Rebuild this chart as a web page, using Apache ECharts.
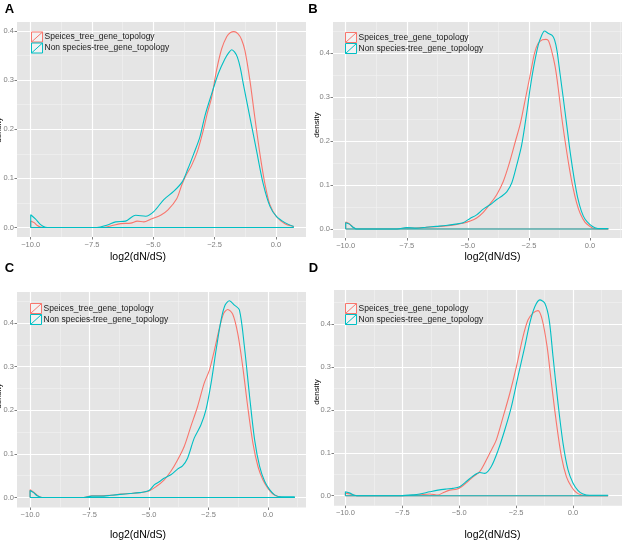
<!DOCTYPE html>
<html>
<head>
<meta charset="utf-8">
<script src="https://cdn.jsdelivr.net/npm/echarts@6/dist/echarts.min.js"></script>
<style>
  html, body { margin: 0; padding: 0; background: #fff; }
  #chart { width: 623px; height: 545px; }
</style>
</head>
<body>
<div id="chart"></div>
<script>
// 四个面板的密度曲线 (log2(dN/dS) 分布)

const seriesNames = ['Speices_tree_gene_topology', 'Non species-tree_gene_topology'];
const panelLetters = ['A', 'B', 'C', 'D'];
const xTitle = 'log2(dN/dS)';
const yTitle = 'density';

const xTickValues = [-10, -7.5, -5, -2.5, 0];
const xMinorValues = [-8.75, -6.25, -3.75, -1.25, 1.25];
const yTickValues = [0, 0.1, 0.2, 0.3, 0.4];
const yMinorValues = [0.05, 0.15, 0.25, 0.35, 0.45];

// [log2(dN/dS), density]
const speciesA = [
    [-10, 0], [-10, 0.0135], [-9.86, 0.010], [-9.73, 0.004], [-9.6, 0.001], [-9.45, 0],
    [-8.5, 0], [-7.5, 0], [-7.0, 0.0005], [-6.74, 0.003], [-6.33, 0.008], [-5.92, 0.009],
    [-5.65, 0.013], [-5.38, 0.0115], [-5.11, 0.017], [-4.7, 0.025], [-4.4, 0.036],
    [-4.05, 0.058], [-3.85, 0.085], [-3.68, 0.105], [-3.45, 0.125], [-3.2, 0.155],
    [-2.96, 0.198], [-2.8, 0.232], [-2.62, 0.265], [-2.42, 0.32], [-2.21, 0.364],
    [-2.0, 0.389], [-1.85, 0.397], [-1.71, 0.399], [-1.55, 0.395], [-1.4, 0.383],
    [-1.26, 0.36], [-1.06, 0.30], [-0.86, 0.225], [-0.65, 0.15], [-0.45, 0.09],
    [-0.24, 0.046], [0.03, 0.022], [0.37, 0.0075], [0.73, 0.002]
];
const nonSpeciesA = [
    [-10, 0], [-10, 0.026], [-9.8, 0.017], [-9.6, 0.006], [-9.4, 0.0007], [-9.2, 0],
    [-7.3, 0], [-6.87, 0.005], [-6.53, 0.0115], [-6.13, 0.013], [-5.72, 0.025],
    [-5.31, 0.023], [-4.97, 0.033], [-4.57, 0.057], [-4.16, 0.074], [-3.82, 0.093],
    [-3.6, 0.118], [-3.35, 0.15], [-3.1, 0.184], [-2.89, 0.228], [-2.62, 0.272],
    [-2.35, 0.313], [-2.08, 0.343], [-1.92, 0.356], [-1.80, 0.362], [-1.68, 0.357],
    [-1.57, 0.347], [-1.45, 0.325], [-1.33, 0.293], [-1.06, 0.225], [-0.79, 0.157],
    [-0.52, 0.09], [-0.24, 0.043], [0.03, 0.022], [0.37, 0.01], [0.73, 0.002]
];
const speciesB = [
    [-10, 0], [-10, 0.016], [-9.85, 0.012], [-9.7, 0.004], [-9.55, 0], [-7.9, 0],
    [-7.5, 0.002], [-7.1, 0.002], [-6.7, 0.004], [-6.3, 0.005], [-5.9, 0.007],
    [-5.5, 0.010], [-5.2, 0.013], [-4.9, 0.018], [-4.64, 0.025], [-4.37, 0.038],
    [-4.09, 0.057], [-3.82, 0.078], [-3.55, 0.108], [-3.3, 0.15], [-3.05, 0.2],
    [-2.85, 0.24], [-2.63, 0.3], [-2.45, 0.35], [-2.27, 0.4], [-2.12, 0.422],
    [-1.95, 0.43], [-1.8, 0.431], [-1.7, 0.428], [-1.57, 0.405], [-1.43, 0.37],
    [-1.3, 0.32], [-1.16, 0.255], [-1.02, 0.2], [-0.85, 0.14], [-0.7, 0.095],
    [-0.55, 0.06], [-0.4, 0.035], [-0.2, 0.015], [0.0, 0.006], [0.15, 0.001],
    [0.4, 0], [0.75, 0]
];
const nonSpeciesB = [
    [-10, 0], [-10, 0.014], [-9.85, 0.011], [-9.7, 0.004], [-9.55, 0], [-7.9, 0],
    [-7.5, 0.003], [-7.1, 0.002], [-6.7, 0.004], [-6.3, 0.006], [-5.9, 0.008],
    [-5.5, 0.011], [-5.2, 0.014], [-4.91, 0.024], [-4.64, 0.032], [-4.37, 0.045],
    [-4.09, 0.055], [-3.82, 0.067], [-3.6, 0.075], [-3.4, 0.085], [-3.2, 0.105],
    [-3.0, 0.145], [-2.8, 0.19], [-2.6, 0.26], [-2.45, 0.32], [-2.3, 0.37],
    [-2.12, 0.418], [-1.98, 0.44], [-1.86, 0.45], [-1.72, 0.445], [-1.55, 0.44],
    [-1.45, 0.43], [-1.35, 0.405], [-1.22, 0.35], [-1.1, 0.30], [-0.95, 0.235],
    [-0.8, 0.17], [-0.65, 0.115], [-0.5, 0.07], [-0.35, 0.04], [-0.2, 0.022],
    [0.0, 0.01], [0.2, 0.003], [0.45, 0.001], [0.75, 0.001]
];
const speciesC = [
    [-10, 0], [-10, 0.0176], [-9.85, 0.012], [-9.7, 0.005], [-9.5, 0], [-7.75, 0],
    [-7.4, 0.004], [-7.0, 0.004], [-6.6, 0.005], [-6.2, 0.0076], [-5.8, 0.009],
    [-5.4, 0.011], [-5.0, 0.015], [-4.7, 0.025], [-4.37, 0.04], [-4.08, 0.06],
    [-3.8, 0.086], [-3.52, 0.117], [-3.24, 0.163], [-2.96, 0.208], [-2.68, 0.262],
    [-2.46, 0.292], [-2.25, 0.338], [-2.04, 0.388], [-1.86, 0.422], [-1.69, 0.431],
    [-1.48, 0.42], [-1.27, 0.376], [-1.06, 0.30], [-0.85, 0.208], [-0.63, 0.124],
    [-0.42, 0.071], [-0.21, 0.04], [0, 0.021], [0.21, 0.008], [0.42, 0.002],
    [0.7, 0], [1.13, 0]
];
const nonSpeciesC = [
    [-10, 0], [-10, 0.016], [-9.85, 0.011], [-9.7, 0.004], [-9.5, 0], [-7.75, 0],
    [-7.4, 0.003], [-7.0, 0.003], [-6.6, 0.005], [-6.2, 0.007], [-5.8, 0.009],
    [-5.4, 0.011], [-5.0, 0.016], [-4.78, 0.029], [-4.57, 0.036], [-4.37, 0.044],
    [-4.08, 0.052], [-3.8, 0.065], [-3.59, 0.0725], [-3.38, 0.09], [-3.1, 0.136],
    [-2.82, 0.166], [-2.61, 0.2], [-2.39, 0.262], [-2.18, 0.338], [-1.97, 0.407],
    [-1.8, 0.441], [-1.62, 0.451], [-1.41, 0.441], [-1.2, 0.43], [-0.99, 0.346],
    [-0.77, 0.231], [-0.56, 0.132], [-0.35, 0.071], [-0.14, 0.037], [0.07, 0.018],
    [0.28, 0.006], [0.56, 0.0015], [1.13, 0.0015]
];
const speciesD = [
    [-10, 0], [-10, 0.006], [-9.8, 0.004], [-9.6, 0.001], [-9.5, 0], [-7.6, 0],
    [-7.0, 0.001], [-6.73, 0.002], [-6.3, 0.004], [-5.93, 0.0015], [-5.71, 0.007],
    [-5.42, 0.013], [-5.12, 0.015], [-4.9, 0.021], [-4.69, 0.03], [-4.39, 0.044],
    [-4.1, 0.056], [-3.81, 0.083], [-3.59, 0.106], [-3.37, 0.13], [-3.07, 0.184],
    [-2.78, 0.238], [-2.49, 0.30], [-2.2, 0.37], [-1.98, 0.409], [-1.76, 0.425],
    [-1.54, 0.431], [-1.35, 0.409], [-1.14, 0.347], [-0.95, 0.262], [-0.73, 0.169],
    [-0.51, 0.091], [-0.29, 0.044], [-0.07, 0.021], [0.15, 0.007], [0.37, 0.0015],
    [0.6, 0], [1.54, 0]
];
const nonSpeciesD = [
    [-10, 0], [-10, 0.009], [-9.8, 0.006], [-9.6, 0.001], [-9.5, 0], [-7.6, 0],
    [-7.0, 0.002], [-6.73, 0.004], [-6.3, 0.009], [-5.93, 0.013], [-5.56, 0.0155],
    [-5.27, 0.017], [-4.98, 0.021], [-4.69, 0.033], [-4.39, 0.046], [-4.1, 0.054],
    [-3.88, 0.052], [-3.59, 0.068], [-3.29, 0.106], [-3.0, 0.153], [-2.71, 0.207],
    [-2.42, 0.277], [-2.12, 0.347], [-1.9, 0.402], [-1.68, 0.44], [-1.46, 0.456],
    [-1.24, 0.448], [-1.05, 0.41], [-0.88, 0.324], [-0.66, 0.215], [-0.44, 0.122],
    [-0.22, 0.06], [0, 0.029], [0.22, 0.012], [0.44, 0.004], [0.73, 0.001],
    [1.54, 0.001]
];

const curves = [
    [speciesA, nonSpeciesA],
    [speciesB, nonSpeciesB],
    [speciesC, nonSpeciesC],
    [speciesD, nonSpeciesD]
];

// 版面: 每个面板的位置和坐标范围
const FONT = '"Liberation Sans", Arial, Helvetica, sans-serif';
const colors = ['#F8766D', '#00BFC4'];
const layout = [
    { left: 17, top: 22, width: 289, height: 215, xMin: -10.56, xMax: 1.23, yMin: -0.0193, yMax: 0.4185,
      letter: [9.5, 9], xLab: [138, 257], yLab: [-1, 130], legend: [31, 31.5] },
    { left: 333, top: 22, width: 289, height: 216, xMin: -10.52, xMax: 1.31, yMin: -0.0205, yMax: 0.4705,
      letter: [313, 9], xLab: [492.5, 257], yLab: [316.5, 125], legend: [345, 32] },
    { left: 17, top: 292, width: 289, height: 215.5, xMin: -10.55, xMax: 1.6, yMin: -0.023, yMax: 0.471,
      letter: [9.5, 268.5], xLab: [138, 535], yLab: [-1, 396], legend: [30, 303] },
    { left: 334, top: 290, width: 288, height: 215.7, xMin: -10.5, xMax: 2.15, yMin: -0.0233, yMax: 0.479,
      letter: [313.5, 268.5], xLab: [492.5, 535], yLab: [316.5, 392], legend: [345, 303] }
];

function fmtX(v) {
    return (v < 0 ? '\u2212' : '') + Math.abs(v).toFixed(1);
}

const grid = [], xAxis = [], yAxis = [], series = [], legend = [], graphic = [];

layout.forEach((p, i) => {
    grid.push({
        left: p.left, top: p.top, width: p.width, height: p.height,
        show: true, backgroundColor: '#E5E5E5', borderWidth: 0
    });

    // 主刻度
    xAxis.push({
        type: 'value', gridIndex: i, min: p.xMin, max: p.xMax, position: 'bottom',
        axisLine: { show: false, onZero: false },
        axisTick: { show: true, length: 2.5, lineStyle: { color: '#7F7F7F' }, customValues: xTickValues },
        axisLabel: { margin: 3.5, color: '#7F7F7F', fontSize: 7.5, fontFamily: FONT,
                     customValues: xTickValues, formatter: fmtX },
        splitLine: { show: true, lineStyle: { color: '#FFFFFF', width: 1.2 } }
    });
    // 次网格线
    xAxis.push({
        type: 'value', gridIndex: i, min: p.xMin, max: p.xMax, position: 'bottom',
        axisLine: { show: false, onZero: false },
        axisTick: { show: false, customValues: xMinorValues },
        axisLabel: { show: false },
        splitLine: { show: true, lineStyle: { color: '#F2F2F2', width: 0.6 } }
    });
    yAxis.push({
        type: 'value', gridIndex: i, min: p.yMin, max: p.yMax, position: 'left',
        axisLine: { show: false, onZero: false },
        axisTick: { show: true, length: 2.5, lineStyle: { color: '#7F7F7F' }, customValues: yTickValues },
        axisLabel: { margin: 3, color: '#7F7F7F', fontSize: 7.5, fontFamily: FONT,
                     customValues: yTickValues, formatter: v => v.toFixed(1) },
        splitLine: { show: true, lineStyle: { color: '#FFFFFF', width: 1.2 } }
    });
    yAxis.push({
        type: 'value', gridIndex: i, min: p.yMin, max: p.yMax, position: 'left',
        axisLine: { show: false, onZero: false },
        axisTick: { show: false, customValues: yMinorValues },
        axisLabel: { show: false },
        splitLine: { show: true, lineStyle: { color: '#F2F2F2', width: 0.6 } }
    });

    curves[i].forEach((pts, k) => {
        series.push({
            name: seriesNames[k], type: 'line', xAxisIndex: i * 2, yAxisIndex: i * 2,
            data: pts, smooth: 0.3, symbol: 'none', silent: true, z: 3 + k,
            lineStyle: { color: colors[k], width: 1.1 }, itemStyle: { color: colors[k] }
        });
        // 密度多边形的底边
        series.push({
            name: seriesNames[k] + ' base', type: 'line', xAxisIndex: i * 2, yAxisIndex: i * 2,
            data: [[pts[0][0], 0], [pts[pts.length - 1][0], 0]],
            symbol: 'none', silent: true, z: 3 + k,
            lineStyle: { color: colors[k], width: 1.1 }, itemStyle: { color: colors[k] }
        });
    });

    legend.push({
        left: p.legend[0], top: p.legend[1], orient: 'vertical', padding: 0, itemGap: 0,
        itemWidth: 11, itemHeight: 10, selectedMode: false,
        icon: 'path://M0,0L11,0L11,10L0,10Z M0,10L11,0',
        textStyle: { fontSize: 8.5, lineHeight: 10, color: '#1A1A1A', fontFamily: FONT, padding: [0, 0, 0, -3] },
        data: seriesNames.map((n, k) => ({
            name: n,
            itemStyle: { color: '#F2F2F2', borderColor: colors[k], borderWidth: 1 }
        }))
    });

    graphic.push({
        type: 'text', x: p.letter[0], y: p.letter[1],
        style: { text: panelLetters[i], font: 'bold 13px ' + FONT, fill: '#000',
                 textAlign: 'center', textVerticalAlign: 'middle' }
    });
    graphic.push({
        type: 'text', x: p.xLab[0], y: p.xLab[1],
        style: { text: xTitle, font: '10.5px ' + FONT, fill: '#000',
                 textAlign: 'center', textVerticalAlign: 'middle' }
    });
    graphic.push({
        type: 'text', x: p.yLab[0], y: p.yLab[1], rotation: Math.PI / 2,
        style: { text: yTitle, font: '8px ' + FONT, fill: '#000',
                 textAlign: 'center', textVerticalAlign: 'middle' }
    });
});

const chart = echarts.init(document.getElementById('chart'));
chart.setOption({
    animation: false,
    backgroundColor: '#FFFFFF',
    grid, xAxis, yAxis, series, legend, graphic
});
</script>
</body>
</html>
